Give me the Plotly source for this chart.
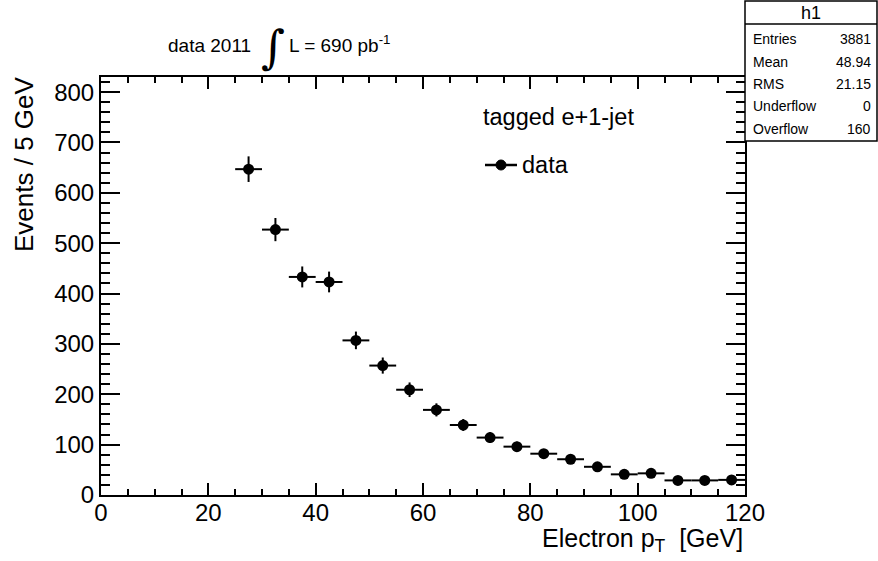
import plotly.graph_objects as go

# ---- data ----
bin_centers = [27.5, 32.5, 37.5, 42.5, 47.5, 52.5, 57.5, 62.5, 67.5, 72.5,
               77.5, 82.5, 87.5, 92.5, 97.5, 102.5, 107.5, 112.5, 117.5]
events = [647, 527, 433, 423, 307, 257, 209, 169, 139, 114,
          96, 82, 71, 56, 41, 43, 29, 29, 30]
errors = [25.4, 23.0, 20.8, 20.6, 17.5, 16.0, 14.5, 13.0, 11.8, 10.7,
          9.8, 9.1, 8.4, 7.5, 6.4, 6.6, 5.4, 5.4, 5.5]
half_bin = [2.5] * len(bin_centers)

stats_names = ["Entries", "Mean", "RMS", "Underflow", "Overflow"]
stats_values = ["3881", "48.94", "21.15", "0", "160"]

FONT = "Liberation Sans, Arial, Helvetica, sans-serif"
W, H = 878, 561
L, R, T, B = 101, 745, 77, 495   # plot frame in pixels


def px(x):
    return (x - L) / (R - L)


def py(y):
    return (B - y) / (B - T)


fig = go.Figure()
fig.add_trace(go.Scatter(
    x=bin_centers, y=events, mode="markers",
    marker=dict(color="black", size=11, symbol="circle"),
    error_y=dict(type="data", array=errors, color="black", thickness=2, width=0),
    error_x=dict(type="data", array=half_bin, color="black", thickness=2, width=0),
    showlegend=False, cliponaxis=False,
))

axis_common = dict(
    showline=True, linecolor="black", linewidth=2, mirror="allticks",
    ticks="inside", tickcolor="black", tickwidth=1.5,
    showgrid=False, zeroline=False,
    tickfont=dict(family=FONT, size=24, color="black"),
)

fig.update_xaxes(range=[0, 120], dtick=20, tick0=0, ticklen=12, ticklabelstandoff=-5,
                 minor=dict(dtick=5, ticks="inside", ticklen=6, tickcolor="black", showgrid=False),
                 **axis_common)
fig.update_yaxes(range=[0, 830], dtick=100, tick0=0, ticklen=19,
                 minor=dict(dtick=20, ticks="inside", ticklen=9, tickcolor="black", showgrid=False),
                 **axis_common)

shapes = []
ann = []

# axis titles
ann.append(dict(text="Electron p<sub>T</sub>  [GeV]", xref="paper", yref="paper",
                x=px(R), y=py(540), xanchor="right", yanchor="middle", showarrow=False,
                font=dict(family=FONT, size=25, color="black")))
ann.append(dict(text="Events / 5 GeV", xref="paper", yref="paper",
                x=px(24), y=py(74), xanchor="center", yanchor="top", textangle=-90,
                showarrow=False, font=dict(family=FONT, size=26, color="black")))

# title text
ann.append(dict(text="data 2011", xref="paper", yref="paper",
                x=px(166), y=py(46), xanchor="left", yanchor="middle", showarrow=False,
                font=dict(family=FONT, size=19, color="black")))
ann.append(dict(text="∫", xref="paper", yref="paper",
                x=px(273), y=py(47), xanchor="center", yanchor="middle", showarrow=False,
                font=dict(family="DejaVu Serif, serif", size=46, color="black")))
ann.append(dict(text="L = 690 pb<sup>-1</sup>", xref="paper", yref="paper",
                x=px(287), y=py(44), xanchor="left", yanchor="middle", showarrow=False,
                font=dict(family=FONT, size=19, color="black")))

# legend
ann.append(dict(text="tagged e+1-jet", xref="paper", yref="paper",
                x=px(481), y=py(117), xanchor="left", yanchor="middle", showarrow=False,
                font=dict(family=FONT, size=23.5, color="black")))
ann.append(dict(text="data", xref="paper", yref="paper",
                x=px(520), y=py(165), xanchor="left", yanchor="middle", showarrow=False,
                font=dict(family=FONT, size=23.5, color="black")))
shapes.append(dict(type="line", xref="paper", yref="paper",
                   x0=px(485), x1=px(517), y0=py(165), y1=py(165),
                   line=dict(color="black", width=2.5)))
shapes.append(dict(type="circle", xref="paper", yref="paper",
                   x0=px(496), x1=px(506), y0=py(160), y1=py(170),
                   fillcolor="black", line=dict(color="black", width=1)))

# stats box
bx0, bx1, by0, by1 = 745, 877, 1, 141
shapes.append(dict(type="rect", xref="paper", yref="paper",
                   x0=px(bx0), x1=px(bx1), y0=py(by1), y1=py(by0),
                   fillcolor="white", line=dict(color="black", width=1.5), layer="above"))
shapes.append(dict(type="line", xref="paper", yref="paper",
                   x0=px(bx0), x1=px(bx1), y0=py(24), y1=py(24),
                   line=dict(color="black", width=1.5)))
ann.append(dict(text="h1", xref="paper", yref="paper",
                x=px((bx0 + bx1) / 2), y=py(13), xanchor="center", yanchor="middle",
                showarrow=False, font=dict(family=FONT, size=18, color="black")))
row_y = [39, 62, 84, 106, 129]
for name, val, yy in zip(stats_names, stats_values, row_y):
    ann.append(dict(text=name, xref="paper", yref="paper",
                    x=px(751), y=py(yy), xanchor="left", yanchor="middle",
                    showarrow=False, font=dict(family=FONT, size=14, color="black")))
    ann.append(dict(text=val, xref="paper", yref="paper",
                    x=px(873), y=py(yy), xanchor="right", yanchor="middle",
                    showarrow=False, font=dict(family=FONT, size=14, color="black")))

fig.update_layout(
    width=W, height=H, autosize=False,
    margin=dict(l=L, r=W - R, t=T, b=H - B, pad=0),
    paper_bgcolor="white", plot_bgcolor="white",
    shapes=shapes, annotations=ann, showlegend=False,
    font=dict(family=FONT, color="black"),
)

fig.write_html("out.html")
